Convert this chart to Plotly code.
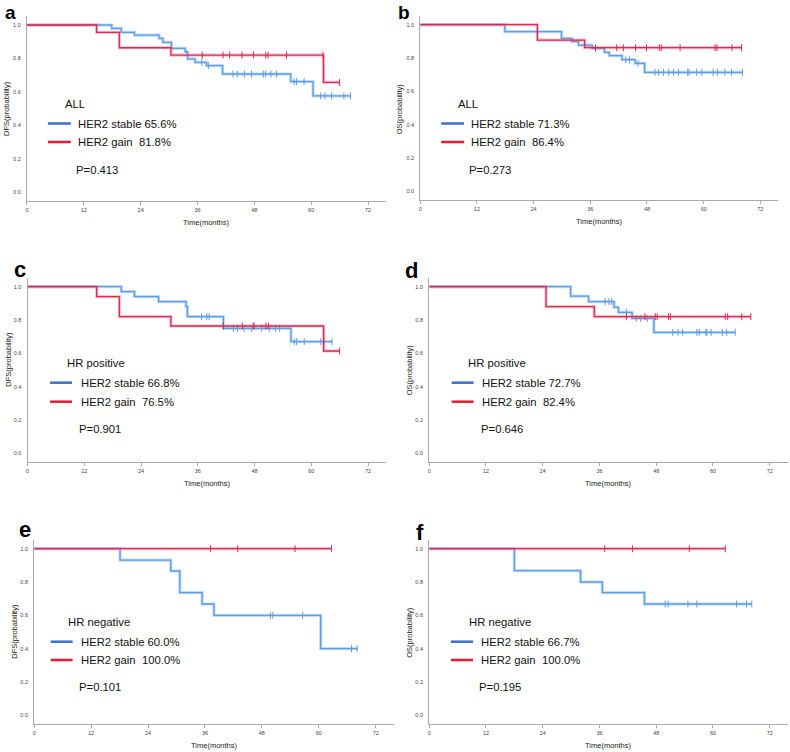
import plotly.graph_objects as go

W, H = 790, 752

# ---------------- data ----------------
panels = ["a", "b", "c", "d", "e", "f"]
y_titles = ["DFS(probability)", "OS(probability)", "DFS(probability)",
            "OS(probability)", "DFS(probability)", "OS(probability)"]
subgroups = ["ALL", "ALL", "HR positive", "HR positive", "HR negative", "HR negative"]
stable_labels = ["HER2 stable 65.6%", "HER2 stable 71.3%", "HER2 stable 66.8%",
                 "HER2 stable 72.7%", "HER2 stable 60.0%", "HER2 stable 66.7%"]
gain_labels = ["HER2 gain  81.8%", "HER2 gain  86.4%", "HER2 gain  76.5%",
               "HER2 gain  82.4%", "HER2 gain  100.0%", "HER2 gain  100.0%"]
p_values = ["P=0.413", "P=0.273", "P=0.901", "P=0.646", "P=0.101", "P=0.195"]
x_ticks = [0, 12, 24, 36, 48, 60, 72]
y_ticks = [0.0, 0.2, 0.4, 0.6, 0.8, 1.0]

# event times / survival after event / censor times
a_stable_t = [17.9, 19.9, 22.7, 27.9, 28.7, 30.5, 33.4, 33.9, 35.5, 37.9, 41.3, 55.7, 60.4]
a_stable_s = [0.98, 0.956, 0.94, 0.92, 0.896, 0.86, 0.84, 0.797, 0.777, 0.757, 0.707, 0.661, 0.576]
a_stable_c = [36.9, 38.3, 43.5, 44.4, 45.9, 47.4, 49.9, 50.4, 51.5, 52.7, 56.4, 56.9, 58.5,
              62.0, 62.9, 64.3, 66.9, 68.3]
a_gain_t = [14.7, 19.5, 30.4, 62.6]
a_gain_s = [0.956, 0.864, 0.82, 0.657]
a_gain_c = [37.0, 41.4, 42.8, 45.4, 47.8, 50.4, 50.9, 54.8, 62.5, 66.0]

b_stable_t = [17.9, 29.9, 32.1, 33.5, 36.4, 39.0, 40.0, 42.7, 45.5, 47.5]
b_stable_s = [0.958, 0.918, 0.898, 0.878, 0.858, 0.834, 0.814, 0.79, 0.768, 0.714]
b_stable_c = [37.1, 43.5, 44.3, 46.1, 49.7, 50.4, 51.5, 52.6, 53.6, 54.7, 56.6, 56.9, 58.5,
              59.6, 62.0, 62.9, 64.5, 65.9, 68.2]
b_gain_t = [24.8, 34.8]
b_gain_s = [0.908, 0.862]
b_gain_c = [37.1, 41.6, 43.0, 45.6, 47.9, 50.6, 51.0, 55.0, 62.4, 62.8, 66.0, 68.0]

c_stable_t = [19.8, 22.6, 27.7, 33.5, 33.8, 41.4, 55.7]
c_stable_s = [0.97, 0.94, 0.91, 0.88, 0.82, 0.75, 0.67]
c_stable_c = [36.8, 37.9, 38.4, 43.5, 44.4, 45.8, 47.4, 49.5, 51.2, 52.4, 53.3, 56.4, 56.9,
              58.5, 62.0, 62.7, 64.4]
c_gain_t = [14.6, 19.4, 30.3, 62.6]
c_gain_s = [0.94, 0.82, 0.764, 0.614]
c_gain_c = [41.4, 45.4, 47.7, 47.9, 50.4, 50.9, 66.0]

d_stable_t = [29.9, 33.7, 39.1, 40.0, 42.9, 47.5]
d_stable_s = [0.944, 0.91, 0.876, 0.846, 0.81, 0.726]
d_stable_c = [37.2, 38.0, 38.6, 41.7, 43.8, 44.7, 46.1, 51.5, 52.6, 53.6, 56.6, 57.1, 58.5,
              58.7, 59.6, 62.0, 62.9, 64.7]
d_gain_t = [24.7, 34.9]
d_gain_s = [0.88, 0.82]
d_gain_c = [41.7, 45.6, 47.8, 48.2, 50.6, 51.0, 62.6, 63.1, 66.1, 68.0]

e_stable_t = [18.1, 28.8, 30.7, 35.4, 37.9, 60.4]
e_stable_s = [0.932, 0.866, 0.736, 0.668, 0.60, 0.40]
e_stable_c = [49.8, 50.3, 56.6, 66.9, 68.1]
e_gain_t = []
e_gain_s = []
e_gain_c = [37.2, 42.9, 55.0, 62.7]

f_stable_t = [18.0, 32.0, 36.6, 45.5]
f_stable_s = [0.868, 0.80, 0.736, 0.668]
f_stable_c = [49.9, 50.5, 54.7, 56.6, 65.0, 67.1, 68.2]
f_gain_t = []
f_gain_s = []
f_gain_c = [37.1, 43.0, 55.0, 62.6]

curves = {
    "a": (a_stable_t, a_stable_s, a_stable_c, a_gain_t, a_gain_s, a_gain_c),
    "b": (b_stable_t, b_stable_s, b_stable_c, b_gain_t, b_gain_s, b_gain_c),
    "c": (c_stable_t, c_stable_s, c_stable_c, c_gain_t, c_gain_s, c_gain_c),
    "d": (d_stable_t, d_stable_s, d_stable_c, d_gain_t, d_gain_s, d_gain_c),
    "e": (e_stable_t, e_stable_s, e_stable_c, e_gain_t, e_gain_s, e_gain_c),
    "f": (f_stable_t, f_stable_s, f_stable_c, f_gain_t, f_gain_s, f_gain_c),
}

# ---------------- layout geometry (pixels) ----------------
# (x_left, x_right, y_top, y_bottom, y_of_1.0, y_of_0.0)
geom = {
    "a": (25.0, 385.0, 16.0, 201.0, 25.0, 192.3),
    "b": (419.3, 778.3, 16.0, 200.0, 24.7, 191.3),
    "c": (25.7, 385.0, 277.7, 462.0, 286.7, 453.3),
    "d": (428.3, 787.7, 277.7, 462.0, 286.7, 453.3),
    "e": (32.3, 392.7, 539.7, 724.0, 548.7, 715.3),
    "f": (428.3, 787.7, 539.7, 724.0, 548.7, 715.3),
}
ytitle_center = {"a": 108, "b": 109, "c": 359, "d": 370, "e": 631.5, "f": 632.5}
# (x_center, y, y_anchor)
letter_pos = {"a": (9, 0, "top"), "b": (403, 0, "top"), "c": (18, 269, "middle"),
              "d": (411, 270, "middle"), "e": (23, 529, "middle"), "f": (419, 532, "middle")}

BLUE = "#5c9de6"
BLUE_HALO = "rgba(120,175,238,0.45)"
RED = "#dc2a52"
RED_HALO = "rgba(235,100,130,0.40)"
LEG_BLUE = "#3b6fcd"
LEG_RED = "#ee1a2c"
AXIS = "#aaaaaa"
FONT = "Liberation Sans, Arial, sans-serif"


def px(x):
    return x / W


def py(y):
    return 1 - y / H


def step_xy(times, surv, censor):
    last = max([0.0] + list(times) + list(censor))
    xs, ys = [0.0], [1.0]
    for t, s in zip(times, surv):
        xs.append(t)
        ys.append(s)
    xs.append(last)
    ys.append(ys[-1])
    return xs, ys


def surv_at(times, surv, t):
    val = 1.0
    for tt, s in zip(times, surv):
        if tt <= t:
            val = s
    return val


fig = go.Figure()
annotations = []
shapes = []

for i, p in enumerate(panels):
    k = "" if i == 0 else str(i + 1)
    xa, ya = "x" + k, "y" + k
    x0, x1, yt, yb, y1px, y0px = geom[p]
    per_unit = y0px - y1px
    y_lo = -(yb - y0px) / per_unit
    y_hi = 1 + (y1px - yt) / per_unit
    x_hi = 75.8

    st, ss, sc, gt, gs, gc = curves[p]
    for (tt, sv, cc, col, halo) in [(st, ss, sc, BLUE, BLUE_HALO), (gt, gs, gc, RED, RED_HALO)]:
        xs, ys = step_xy(tt, sv, cc)
        fig.add_trace(go.Scatter(x=xs, y=ys, mode="lines", line=dict(color=halo, width=3.2, shape="hv"),
                                 xaxis=xa, yaxis=ya, showlegend=False, hoverinfo="skip"))
        fig.add_trace(go.Scatter(x=xs, y=ys, mode="lines", line=dict(color=col, width=1.3, shape="hv"),
                                 xaxis=xa, yaxis=ya, showlegend=False))
        fig.add_trace(go.Scatter(x=cc, y=[surv_at(tt, sv, c) for c in cc], mode="markers",
                                 marker=dict(symbol="line-ns-open", size=5, color=col,
                                             line=dict(color=col, width=1)),
                                 xaxis=xa, yaxis=ya, showlegend=False))

    fig.layout["xaxis" + k] = dict(
        domain=[px(x0), px(x1)], anchor=ya, range=[0, x_hi], tickvals=x_ticks,
        showline=True, linecolor=AXIS, linewidth=1.2, showgrid=False, zeroline=False,
        ticks="outside", ticklen=3, tickcolor=AXIS, tickwidth=1,
        tickfont=dict(size=5.5, color="#444", family=FONT), fixedrange=True)
    fig.layout["yaxis" + k] = dict(
        domain=[py(yb), py(yt)], anchor=xa, range=[y_lo, y_hi], tickvals=y_ticks,
        tickformat=".1f", showline=True, linecolor=AXIS, linewidth=1.2, showgrid=False,
        zeroline=False, ticks="", ticklabelstandoff=4,
        tickfont=dict(size=5.5, color="#444", family=FONT), fixedrange=True)

    # panel letter
    lx, ly, lanchor = letter_pos[p]
    annotations.append(dict(text="<b>%s</b>" % p, x=px(lx), y=py(ly), xref="paper", yref="paper",
                            showarrow=False, xanchor="center", yanchor=lanchor,
                            font=dict(size=19 if lanchor == "top" else 22, color="black", family=FONT)))
    # axis titles
    annotations.append(dict(text="Time(months)", x=px((x0 + x1) / 2), y=py(yb + 21), xref="paper",
                            yref="paper", showarrow=False, xanchor="center", yanchor="middle",
                            font=dict(size=7.5, color="#222", family=FONT)))
    annotations.append(dict(text=y_titles[i], x=px(x0 - 20), y=py(ytitle_center[p]), xref="paper",
                            yref="paper", showarrow=False, xanchor="center", yanchor="middle",
                            textangle=-90, font=dict(size=7.5, color="#222", family=FONT)))

    # in-plot legend block
    if p in ("a", "b"):
        title_y, l1_y, l2_y, p_y = 104, 123.5, 142, 170
        dx_title, dx_l0, dx_l1, dx_txt, dx_p = 38, 21, 44, 51, 49
    elif p in ("c", "d"):
        title_y, l1_y, l2_y, p_y = 363.3, 382.7, 401.7, 429
        dx_title, dx_l0, dx_l1, dx_txt, dx_p = 39, 22.5, 44.5, 53, 51.5
    else:
        title_y, l1_y, l2_y, p_y = 622.3, 641.7, 660, 687.3
        dx_title, dx_l0, dx_l1, dx_txt, dx_p = 33.5, 16.5, 38.5, 46.5, 44.5
        if p == "f":
            dx_title, dx_l0, dx_l1, dx_txt, dx_p = 39.5, 21.7, 44, 52, 49.5

    pad = 2
    annotations.append(dict(text=subgroups[i], x=px(x0 + dx_title - pad), y=py(title_y), xref="paper",
                            yref="paper", showarrow=False, xanchor="left", yanchor="middle",
                            font=dict(size=11.3, color="#111", family=FONT)))
    annotations.append(dict(text=stable_labels[i], x=px(x0 + dx_txt - pad), y=py(l1_y), xref="paper",
                            yref="paper", showarrow=False, xanchor="left", yanchor="middle",
                            font=dict(size=11.3, color="#111", family=FONT)))
    annotations.append(dict(text=gain_labels[i], x=px(x0 + dx_txt - pad), y=py(l2_y), xref="paper",
                            yref="paper", showarrow=False, xanchor="left", yanchor="middle",
                            font=dict(size=11.3, color="#111", family=FONT)))
    annotations.append(dict(text=p_values[i], x=px(x0 + dx_p - pad), y=py(p_y), xref="paper",
                            yref="paper", showarrow=False, xanchor="left", yanchor="middle",
                            font=dict(size=11.3, color="#111", family=FONT)))
    shapes.append(dict(type="line", xref="paper", yref="paper", x0=px(x0 + dx_l0), x1=px(x0 + dx_l1),
                       y0=py(l1_y), y1=py(l1_y), line=dict(color=LEG_BLUE, width=2.5)))
    shapes.append(dict(type="line", xref="paper", yref="paper", x0=px(x0 + dx_l0), x1=px(x0 + dx_l1),
                       y0=py(l2_y), y1=py(l2_y), line=dict(color=LEG_RED, width=2.5)))

fig.update_layout(width=W, height=H, margin=dict(l=0, r=0, t=0, b=0),
                  paper_bgcolor="white", plot_bgcolor="white",
                  annotations=annotations, shapes=shapes, showlegend=False,
                  font=dict(family=FONT))

fig.write_html("out.html", config={"displayModeBar": False},
               post_script="document.body.style.margin='0';document.body.style.overflow='hidden';")
